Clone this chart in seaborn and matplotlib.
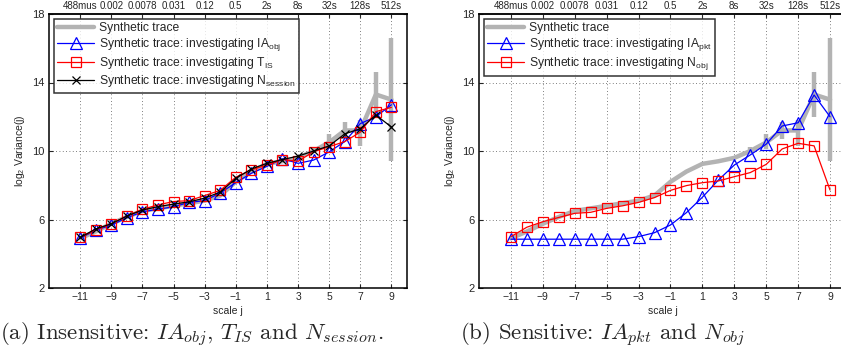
import numpy as np
import pandas as pd
import matplotlib
matplotlib.use("Agg")
import matplotlib.pyplot as plt
import seaborn as sns

sns.set_style("white")
plt.rcParams['font.family'] = ['Liberation Sans', 'DejaVu Sans']
plt.rcParams['mathtext.fontset'] = 'custom'
plt.rcParams['mathtext.rm'] = 'Liberation Sans'
plt.rcParams['mathtext.it'] = 'Liberation Sans:italic'

# ---------------- data ----------------
scales = list(range(-11, 10))
top_labels = ['488mus', '0.002', '0.0078', '0.031', '0.12', '0.5', '2s', '8s', '32s', '128s', '512s']
tick_j = list(range(-11, 10, 2))
y_ticks = [2, 6, 10, 14, 18]

synthetic = [4.9, 5.3, 5.75, 6.15, 6.5, 6.65, 6.8, 6.95, 7.1, 7.4, 8.2,
             8.8, 9.25, 9.4, 9.6, 10.0, 10.5, 11.2, 11.2, 13.3, 13.0]
err_scales = [4, 5, 6, 7, 8, 9]
err_low = [9.9, 10.1, 10.7, 10.3, 12.0, 9.4]
err_high = [10.25, 11.0, 11.7, 11.8, 14.6, 16.6]

ia_obj = [4.9, 5.38, 5.67, 6.1, 6.45, 6.6, 6.74, 7.0, 7.1, 7.55, 8.15,
          8.7, 9.1, 9.55, 9.28, 9.47, 9.95, 10.55, 11.6, 12.0, 12.7]
t_is = [4.95, 5.4, 5.75, 6.2, 6.6, 6.85, 7.05, 7.1, 7.4, 7.7, 8.47,
        8.9, 9.18, 9.5, 9.4, 9.96, 10.25, 10.55, 11.1, 12.3, 12.55]
n_session = [4.95, 5.45, 5.75, 6.2, 6.55, 6.75, 6.9, 7.03, 7.25, 7.6, 8.4,
             8.95, 9.28, 9.5, 9.7, 10.0, 10.3, 11.0, 11.3, 12.1, 11.4]

ia_pkt = [4.85, 4.85, 4.85, 4.85, 4.85, 4.85, 4.85, 4.85, 5.0, 5.23, 5.68,
          6.4, 7.3, 8.3, 9.18, 9.77, 10.4, 11.46, 11.65, 13.27, 12.0]
n_obj = [5.0, 5.55, 5.87, 6.12, 6.36, 6.42, 6.65, 6.8, 7.0, 7.28, 7.7,
         7.98, 8.15, 8.25, 8.5, 8.74, 9.22, 10.12, 10.45, 10.3, 7.72]

df = pd.DataFrame({'j': scales, 'synthetic': synthetic, 'ia_obj': ia_obj,
                   't_is': t_is, 'n_session': n_session,
                   'ia_pkt': ia_pkt, 'n_obj': n_obj})

GRAY = '#b3b3b3'

fig = plt.figure(figsize=(8.41, 3.56), dpi=100)
ax1 = fig.add_axes([49/841, (356-288)/356, 358/841, 274/356])
ax2 = fig.add_axes([479/841, (356-288)/356, 367/841, 274/356])


def draw_synthetic(ax):
    sns.lineplot(data=df, x='j', y='synthetic', ax=ax, color=GRAY, lw=3.2,
                 label='Synthetic trace', zorder=2)
    ax.vlines(err_scales, err_low, err_high, color=GRAY, lw=3.2, zorder=2)


def draw_series(ax, col, color, marker, label, ms=7, z=3):
    sns.lineplot(data=df, x='j', y=col, ax=ax, color=color, lw=0.9,
                 marker=marker, markersize=ms, markerfacecolor='none',
                 markeredgecolor=color, markeredgewidth=0.9,
                 label=label, zorder=z)


def style_axes(ax):
    ax.set_xlim(-13, 10)
    ax.set_ylim(2, 18)
    ax.set_xticks(tick_j)
    ax.set_xticklabels([str(t).replace('-', '\u2212') for t in tick_j], fontsize=7.5)
    ax.set_yticks(y_ticks)
    ax.set_yticklabels([str(t) for t in y_ticks], fontsize=8)
    ax.tick_params(direction='in', length=3, width=0.8, top=False, right=True,
                   bottom=True, left=True, pad=3)
    ax.grid(True, linestyle=(0, (1, 3)), color='#555555', lw=0.6)
    for s in ax.spines.values():
        s.set_color('black')
        s.set_linewidth(1.1)
    ax.set_xlabel('scale j', fontsize=7.5, labelpad=3)
    ax.set_ylabel(r'log$_2$ Variance(j)', fontsize=7.5, labelpad=4)
    sec = ax.secondary_xaxis('top')
    sec.set_xticks(tick_j)
    sec.set_xticklabels(top_labels, fontsize=7)
    sec.tick_params(direction='in', length=3, width=0.8, pad=2)
    sec.spines['top'].set_linewidth(1.1)


draw_synthetic(ax1)
draw_series(ax1, 'ia_obj', 'blue', '^', r'Synthetic trace: investigating IA$_{\mathrm{obj}}$', ms=8)
draw_series(ax1, 't_is', 'red', 's', r'Synthetic trace: investigating T$_{\mathrm{IS}}$', ms=7)
draw_series(ax1, 'n_session', 'black', 'x', r'Synthetic trace: investigating N$_{\mathrm{session}}$', ms=6, z=4)
style_axes(ax1)

draw_synthetic(ax2)
draw_series(ax2, 'ia_pkt', 'blue', '^', r'Synthetic trace: investigating IA$_{\mathrm{pkt}}$', ms=9)
draw_series(ax2, 'n_obj', 'red', 's', r'Synthetic trace: investigating N$_{\mathrm{obj}}$', ms=7)
style_axes(ax2)

for ax in (ax1, ax2):
    leg = ax.legend(loc='upper left', fontsize=8.7, frameon=True, fancybox=False,
                    handlelength=3.0, handletextpad=0.4, borderpad=0.3,
                    labelspacing=0.15, borderaxespad=0.4)
    leg.get_frame().set_edgecolor('black')
    leg.get_frame().set_linewidth(1.1)
    leg.set_zorder(10)

fig.text(0.0, 0.045, r'(a) Insensitive: $IA_{obj}$, $T_{IS}$ and $N_{session}$.',
         family='cmr10', math_fontfamily='cm', fontsize=16.5, ha='left', va='baseline')
fig.text(460/841, 0.045, r'(b) Sensitive: $IA_{pkt}$ and $N_{obj}$',
         family='cmr10', math_fontfamily='cm', fontsize=16.5, ha='left', va='baseline')

fig.savefig('out.png', dpi=100)
